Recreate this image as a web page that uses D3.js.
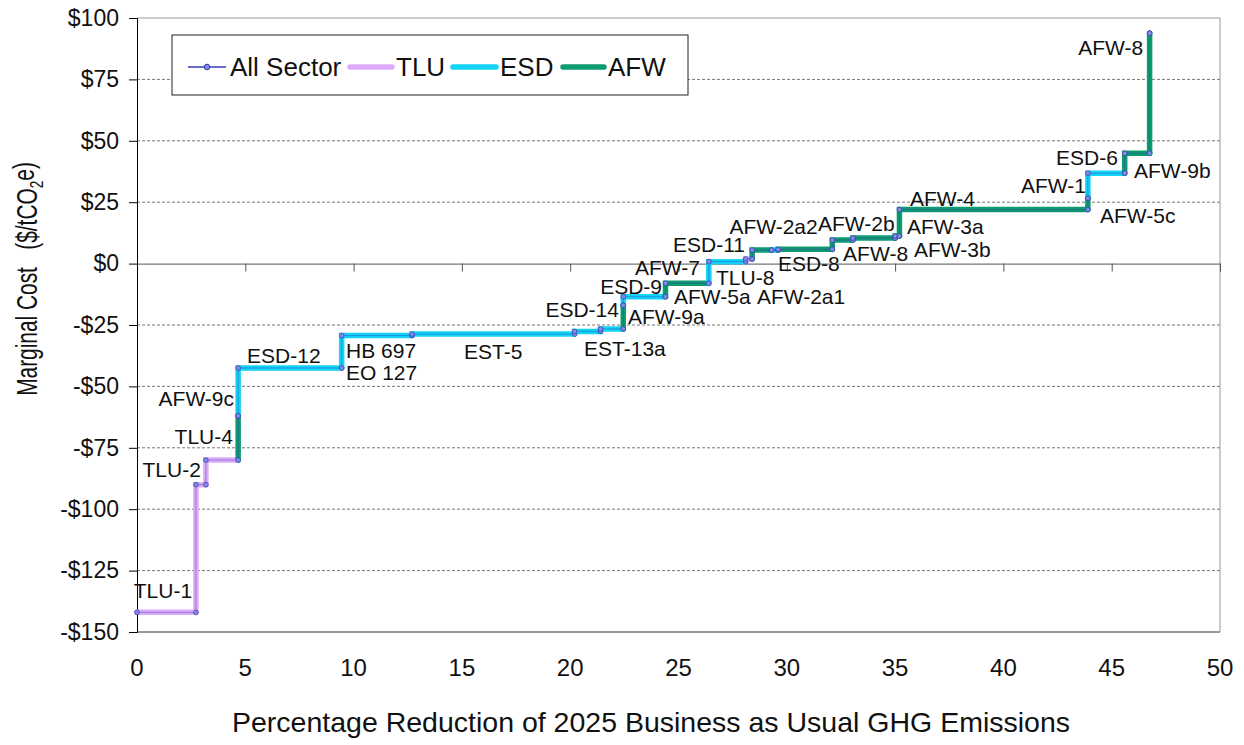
<!DOCTYPE html>
<html><head><meta charset="utf-8">
<script src="https://cdn.jsdelivr.net/npm/d3@7"></script>
<style>
html,body{margin:0;padding:0;background:#fff;}
text{font-family:"Liberation Sans",Arial,sans-serif;fill:#111;}
</style></head>
<body><svg id="chart" width="1244" height="745"></svg>
<script>
// ---- data ----
const measureNames   = ["TLU-1","TLU-2","TLU-4","AFW-9c","ESD-12","HB 697","EST-5","EST-13a","ESD-14","AFW-9a","ESD-9","AFW-7","ESD-11","TLU-8","AFW-2a1","ESD-8","AFW-2a2","AFW-8","AFW-2b","AFW-3b","AFW-4","AFW-5c","ESD-6","AFW-9b","AFW-8"];
const measureSectors = ["TLU","TLU","TLU","AFW","ESD","ESD","ESD","ESD","ESD","AFW","ESD","AFW","ESD","TLU","AFW","ESD","AFW","AFW","AFW","AFW","AFW","AFW","ESD","AFW","AFW"];
const measureStart   = [0,2.72,3.18,4.67,4.67,9.45,12.7,20.2,21.4,22.45,22.45,24.4,26.4,28.1,28.4,29.3,29.6,32.1,33.05,35.0,35.2,43.9,43.9,45.6,46.75];
const measureEnd     = [2.72,3.18,4.67,4.67,9.45,12.7,20.2,21.4,22.45,22.45,24.4,26.4,28.1,28.4,29.3,29.6,32.1,33.05,35.0,35.2,43.9,43.9,45.6,46.75,46.75];
const measureCost    = [-142,-90,-80,-62,-42.5,-29.3,-28.7,-27.6,-26.6,-17,-13.5,-8,0.8,1.9,5.5,5.5,5.8,9.6,10.4,11.2,22,26.6,36.8,44.9,93.8];

const labelTexts  = ["TLU-1","TLU-2","TLU-4","AFW-9c","ESD-12","HB 697","EO 127","EST-5","EST-13a","ESD-14","AFW-9a","ESD-9","AFW-5a","AFW-7","TLU-8","AFW-2a1","ESD-11","ESD-8","AFW-2a2","AFW-2b","AFW-8","AFW-3a","AFW-3b","AFW-4","AFW-1","AFW-5c","ESD-6","AFW-9b","AFW-8"];
const labelX      = [1.2,2.95,4.43,4.48,5.08,9.65,9.65,15.1,20.64,22.25,22.67,24.24,24.79,25.99,26.73,28.62,28.07,29.59,27.35,31.44,32.6,35.55,35.87,35.69,43.81,44.46,45.29,46.03,46.45];
const labelY      = [-132.9,-84.0,-70.2,-54.7,-37.2,-35.2,-44.5,-35.6,-34.4,-18.5,-21.5,-9.1,-13.5,-1.4,-5.5,-13.5,8.0,0.0,15.3,16.5,4.3,15.3,5.8,26.7,32.0,19.8,43.4,38.1,88.2];
const labelAnchor = ["middle","end","end","end","start","start","start","start","start","end","start","end","start","end","start","start","end","start","start","start","start","start","start","start","end","start","end","start","end"];

const xTicks = [0,5,10,15,20,25,30,35,40,45,50];
const yTicks = [-150,-125,-100,-75,-50,-25,0,25,50,75,100];
const yTickLabels = ["-$150","-$125","-$100","-$75","-$50","-$25","$0","$25","$50","$75","$100"];
const sectorNames = ["TLU","ESD","AFW"];
const sectorColors = {TLU:"#ddaaf7", ESD:"#12d2f6", AFW:"#0f9b70"};
const allColor = "#3838b4";

// ---- layout ----
const svg = d3.select("#chart");
const L = 137, R = 1220, T = 18, B = 632;
const x = d3.scaleLinear().domain([0,50]).range([L,R]);
const y = d3.scaleLinear().domain([-150,100]).range([B,T]);

// gridlines
svg.append("g").selectAll("line")
  .data(yTicks.filter(v => v !== 0 && v !== 100 && v !== -150))
  .join("line")
  .attr("x1", L).attr("x2", R)
  .attr("y1", d => y(d)).attr("y2", d => y(d))
  .attr("stroke", "#777").attr("stroke-width", 1).attr("stroke-dasharray", "3,2");

// frame (top, right, bottom grey)
svg.append("line").attr("x1",L).attr("x2",R).attr("y1",T).attr("y2",T).attr("stroke","#999");
svg.append("line").attr("x1",R).attr("x2",R).attr("y1",T).attr("y2",B).attr("stroke","#999");
svg.append("line").attr("x1",L).attr("x2",R).attr("y1",B).attr("y2",B).attr("stroke","#999").attr("stroke-width",2);

// x axis at y=0
const xAxis = d3.axisBottom(x).tickValues(xTicks).tickSize(8).tickFormat("");
const gx = svg.append("g").attr("transform", `translate(0,${y(0)})`).call(xAxis);
gx.select(".domain").attr("stroke","#555");
gx.selectAll(".tick line").attr("stroke","#555");

// x tick labels below plot
svg.append("g").selectAll("text").data(xTicks).join("text")
  .attr("x", d => x(d)).attr("y", 668).attr("dy","0.35em")
  .attr("text-anchor","middle").style("font-size","24px")
  .text(d => d);

// y axis
const yAxis = d3.axisLeft(y).tickValues(yTicks).tickSize(8).tickFormat((d,i) => yTickLabels[i]).tickPadding(10);
const gy = svg.append("g").attr("transform", `translate(${L},0)`).call(yAxis);
gy.select(".domain").attr("stroke","#000");
gy.selectAll(".tick line").attr("stroke","#000");
gy.selectAll(".tick text").style("font-size","23px").style("font-family","'Liberation Sans',Arial,sans-serif").attr("fill","#111");

// step segments
const vertices = [];
measureCost.forEach((c,i) => {
  if (i > 0) vertices.push([measureStart[i], measureCost[i-1]]);
  vertices.push([measureStart[i], c]);
  vertices.push([measureEnd[i], c]);
});

const segs = svg.append("g");
measureCost.forEach((c,i) => {
  const p = d3.path();
  if (i > 0) { p.moveTo(x(measureStart[i]), y(measureCost[i-1])); p.lineTo(x(measureStart[i]), y(c)); }
  else p.moveTo(x(measureStart[i]), y(c));
  p.lineTo(x(measureEnd[i]), y(c));
  segs.append("path").attr("d", p.toString()).attr("fill","none")
    .attr("stroke", sectorColors[measureSectors[i]]).attr("stroke-width",5.5)
    .attr("stroke-linecap","round").attr("stroke-linejoin","miter");
});

// all sector thin line + markers
svg.append("path").datum(vertices)
  .attr("d", d3.line().x(d => x(d[0])).y(d => y(d[1])))
  .attr("fill","none").attr("stroke",allColor).attr("stroke-width",0.8).attr("opacity",0.5);
const dotPts = [];
measureCost.forEach((c,i) => { dotPts.push([measureStart[i], c]); dotPts.push([measureEnd[i], c]); });
svg.append("g").selectAll("circle").data(dotPts).join("circle")
  .attr("cx", d => x(d[0])).attr("cy", d => y(d[1])).attr("r", 2.4)
  .attr("fill","#7d8ce0").attr("stroke",allColor).attr("stroke-width",0.7);

// labels
svg.append("g").selectAll("text").data(labelTexts).join("text")
  .attr("x", (d,i) => x(labelX[i])).attr("y", (d,i) => y(labelY[i])).attr("dy","0.36em")
  .attr("text-anchor", (d,i) => labelAnchor[i]).style("font-size","21px")
  .text(d => d);

// legend
const lg = svg.append("g");
lg.append("rect").attr("x",172).attr("y",35).attr("width",516).attr("height",60)
  .attr("fill","#fff").attr("stroke","#222").attr("stroke-width",1);
lg.append("line").attr("x1",188).attr("x2",226).attr("y1",67).attr("y2",67).attr("stroke",allColor).attr("stroke-width",1.4);
lg.append("circle").attr("cx",207).attr("cy",67).attr("r",2.8).attr("fill","#7d8ce0").attr("stroke",allColor).attr("stroke-width",1);
lg.append("text").attr("x",230).attr("y",67).attr("dy","0.36em").style("font-size","26px").text("All Sector");
const legX = {TLU:[350,396], ESD:[453,500], AFW:[563,608]};
sectorNames.forEach(s => {
  lg.append("line").attr("x1",legX[s][0]).attr("x2",legX[s][1]-4).attr("y1",67).attr("y2",67)
    .attr("stroke",sectorColors[s]).attr("stroke-width",5.5).attr("stroke-linecap","round");
  lg.append("text").attr("x",legX[s][1]).attr("y",67).attr("dy","0.36em").style("font-size","26px").text(s);
});

// axis titles
svg.append("text").attr("x",651).attr("y",722).attr("dy","0.36em").attr("text-anchor","middle")
  .style("font-size","28.5px").text("Percentage Reduction of 2025 Business as Usual GHG Emissions");
const yt = svg.append("text").attr("transform","translate(27,279) rotate(-90) scale(0.72,1)").attr("text-anchor","middle")
  .attr("dy","0.36em").style("font-size","29px");
yt.append("tspan").text("Marginal Cost\u00a0\u00a0\u00a0($/tCO");
yt.append("tspan").attr("dy","0.3em").style("font-size","19px").text("2");
yt.append("tspan").attr("dy","-0.3em").text("e)");
</script></body></html>
